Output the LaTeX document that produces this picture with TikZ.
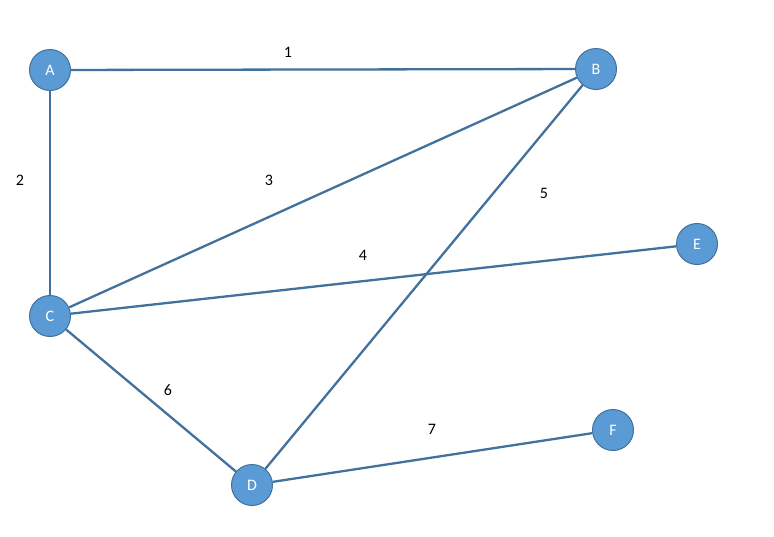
\documentclass[tikz,border=0pt]{standalone}
\usepackage{fontspec}
\setmainfont{Carlito}
\definecolor{nodefill}{HTML}{5B9BD5}
\definecolor{nodeline}{HTML}{41719C}
\definecolor{edgecol}{HTML}{41719C}
\begin{document}
\begin{tikzpicture}[x=1pt,y=-1pt,
  vert/.style={circle,fill=nodefill,draw=nodeline,line width=1pt,minimum size=41pt,inner sep=0pt,text=white,font=\fontsize{16}{18}\selectfont},
  edge/.style={draw=edgecol,line width=2.3pt},
  lab/.style={font=\fontsize{16}{18}\selectfont,text=black}]
\useasboundingbox (0,0) rectangle (774,536);
\node[vert] (A) at (50,70) {A};
\node[vert] (B) at (596,69) {B};
\node[vert] (C) at (50,316) {C};
\node[vert] (D) at (252,485) {D};
\node[vert] (E) at (697,244) {E};
\node[vert] (F) at (613,430) {F};
\draw[edge] (A) -- (B);
\draw[edge] (A) -- (C);
\draw[edge] (C) -- (B);
\draw[edge] (C) -- (E);
\draw[edge] (B) -- (D);
\draw[edge] (C) -- (D);
\draw[edge] (D) -- (F);
\node[lab] (l1) at (288,52) {1};
\node[lab] (l2) at (20,180) {2};
\node[lab] (l3) at (269,180) {3};
\node[lab] (l4) at (363,255) {4};
\node[lab] (l5) at (544,193) {5};
\node[lab] (l6) at (168,390) {6};
\node[lab] (l7) at (432,429) {7};
\end{tikzpicture}
\end{document}
